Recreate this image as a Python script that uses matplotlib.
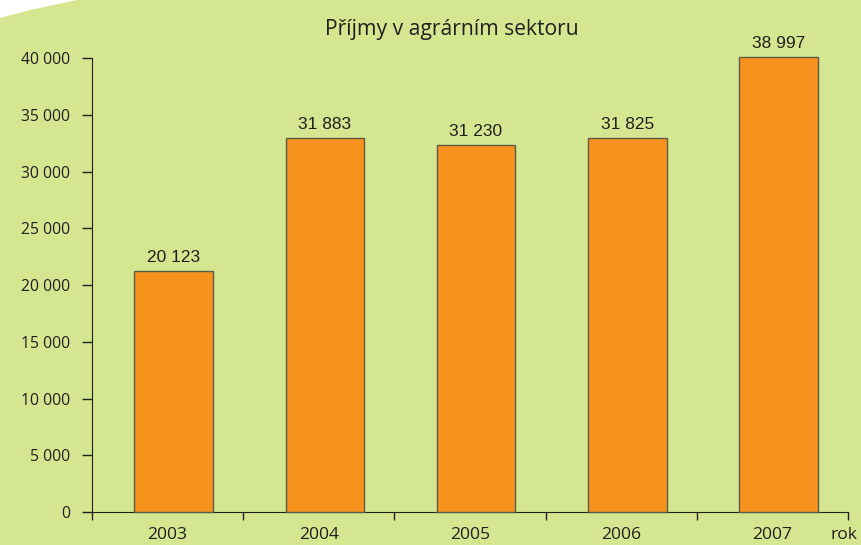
import matplotlib
matplotlib.use("Agg")
import matplotlib.pyplot as plt
from matplotlib.patches import Polygon
import numpy as np

# data
years = ["2003", "2004", "2005", "2006", "2007"]
bar_heights = [21230, 32930, 32360, 32930, 40110]  # drawn bar heights
value_labels = ["20 123", "31 883", "31 230", "31 825", "38 997"]  # printed labels
y_ticks = [0, 5000, 10000, 15000, 20000, 25000, 30000, 35000, 40000]
y_tick_labels = ["0", "5 000", "10 000", "15 000", "20 000", "25 000",
                 "30 000", "35 000", "40 000"]

bg = "#d5e690"
bar_color = "#f7921e"
edge = "#5b5b45"
text_col = "#231f20"

fig = plt.figure(figsize=(8.61, 5.45), dpi=100)
fig.patch.set_facecolor(bg)

# white wedge in the top left corner
wedge = Polygon([[0, 1], [0, 1 - 18 / 545], [30 / 861, 1 - 10 / 545],
                 [77 / 861, 1]], closed=True, transform=fig.transFigure,
                facecolor="white", edgecolor="none")
fig.patches.append(wedge)

ax = fig.add_axes([92 / 861, 1 - 512 / 545, (848 - 92) / 861, (512 - 58.3) / 545])
ax.set_facecolor(bg)

x = np.arange(len(years))
shift = 0.04  # bars sit a little right of the category centres
ax.bar(x + shift, bar_heights, width=0.52, color=bar_color, edgecolor=edge,
       linewidth=1.0, clip_on=False, zorder=3)

for xi, h, lab in zip(x, bar_heights, value_labels):
    ax.text(xi + shift, h + 550, lab, ha="center", va="bottom", fontsize=12.5,
            family="Liberation Sans", color=text_col)

ax.set_xlim(-0.5, len(years) - 0.5)
ax.set_ylim(0, 40000)

ax.set_yticks(y_ticks)
ax.set_yticklabels(y_tick_labels, family="Open Sans", fontsize=11.3, color=text_col)
ax.tick_params(axis="y", length=7, width=1, pad=8.5, color=text_col)

ax.set_xticks(x)
ax.set_xticklabels(years, family="Open Sans", fontsize=12.6, color=text_col)
ax.set_xticks(np.arange(-0.5, len(years)), minor=True)
ax.tick_params(axis="x", which="major", length=0, pad=11)
ax.tick_params(axis="x", which="minor", length=6, width=1, color=text_col)

for s in ["top", "right"]:
    ax.spines[s].set_visible(False)
ax.spines["left"].set_color(text_col)
ax.spines["bottom"].set_color(text_col)

fig.text(452 / 861, 1 - 30 / 545, "Příjmy v agrárním sektoru", ha="center",
         va="center", family="Open Sans", fontsize=15.2, color=text_col)
fig.text(844 / 861, 1 - 535 / 545, "rok", ha="center", va="center",
         family="Open Sans", fontsize=12.6, color=text_col)

fig.savefig("out.png", dpi=100, facecolor=bg)
